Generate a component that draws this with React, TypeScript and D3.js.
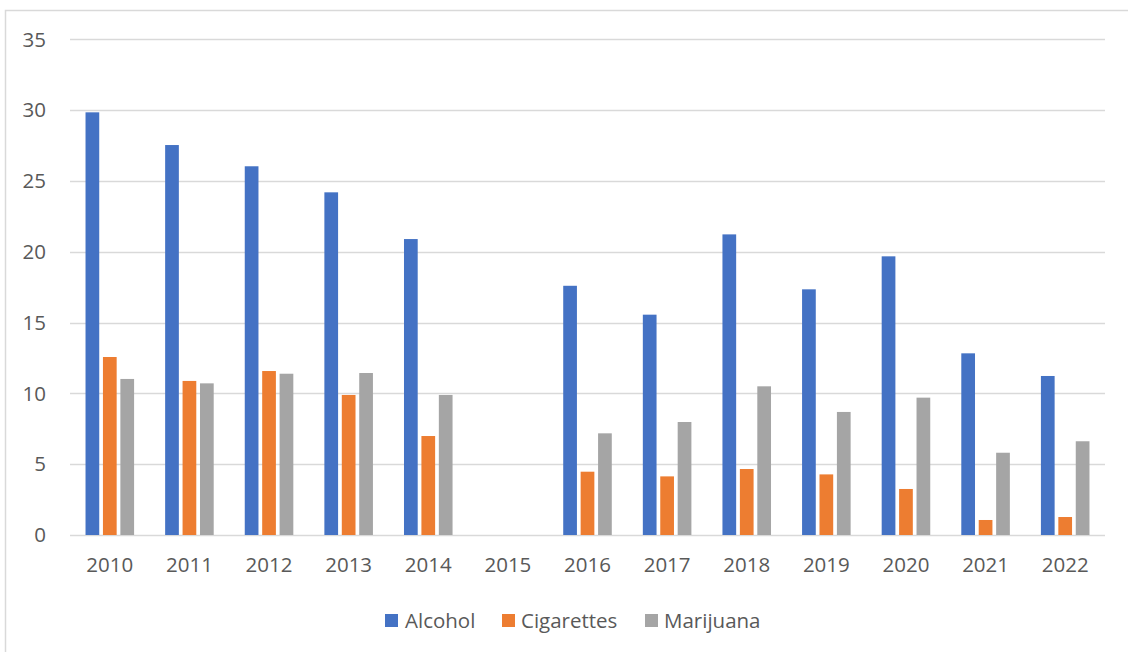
import React from "react";
import * as d3 from "d3";

const years = ["2010","2011","2012","2013","2014","2015","2016","2017","2018","2019","2020","2021","2022"];
const alcohol: (number|null)[] = [29.85,27.54,26.04,24.2,20.9,null,17.6,15.56,21.23,17.35,19.68,12.83,11.23];
const cigarettes: (number|null)[] = [12.57,10.88,11.58,9.89,6.99,null,4.47,4.14,4.66,4.28,3.25,1.06,1.27];
const marijuana: (number|null)[] = [11.02,10.71,11.39,11.44,9.89,null,7.18,7.98,10.5,8.69,9.7,5.81,6.62];
const seriesNames = ["Alcohol","Cigarettes","Marijuana"];
const seriesColors = ["#4472C4","#ED7D31","#A5A5A5"];
const yTicks = [0,5,10,15,20,25,30,35];

const W = 1128, H = 652;
const FONT = "'Open Sans', sans-serif";
const TEXT = "#595959";
const FS = 20.5;

export default function App() {
  const plotL = 70, plotR = 1105, plotT = 39.4, plotB = 535;
  const x = d3.scaleBand<string>().domain(years).range([plotL, plotR]).padding(0);
  const y = d3.scaleLinear().domain([0, 35]).range([plotB, plotT]);
  const bw = x.bandwidth();
  const groupW = bw * 0.61;
  const xs = d3.scaleBand<string>().domain(seriesNames)
    .range([(bw - groupW) / 2, (bw + groupW) / 2]).paddingInner(0.213).paddingOuter(0);
  const data = [alcohol, cigarettes, marijuana];

  const legendItems = [
    { name: "Alcohol", sq: 385, tx: 405 },
    { name: "Cigarettes", sq: 502, tx: 521 },
    { name: "Marijuana", sq: 645, tx: 664 },
  ];

  return (
    <svg width={W} height={H} style={{ position: "absolute", left: 0, top: 0, background: "#fff" }}
      fontFamily={FONT}>
      <rect x={0} y={0} width={W} height={H} fill="#fff" />
      <rect x={5.5} y={10.5} width={W + 20} height={H + 20} fill="none" stroke="#d9d9d9" strokeWidth={1.5} />
      {yTicks.map(t => (
        <g key={t}>
          <line x1={plotL} x2={plotR} y1={Math.round(y(t)) + 0.5} y2={Math.round(y(t)) + 0.5}
            stroke="#d9d9d9" strokeWidth={1.5} />
          <text x={46} y={y(t)} dy="0.35em" textAnchor="end" fontSize={FS} fill={TEXT}>{t}</text>
        </g>
      ))}
      {data.map((vals, si) => (
        <g key={si} fill={seriesColors[si]}>
          {vals.map((v, i) => v == null ? null : (
            <rect key={i}
              x={(x(years[i]) as number) + (xs(seriesNames[si]) as number)}
              y={y(v)} width={xs.bandwidth()} height={y(0) - y(v)} />
          ))}
        </g>
      ))}
      {years.map(yr => (
        <text key={yr} x={(x(yr) as number) + bw / 2} y={565} dy="0.35em" textAnchor="middle"
          fontSize={FS} fill={TEXT}>{yr}</text>
      ))}
      {legendItems.map((it, i) => (
        <g key={it.name}>
          <rect x={it.sq} y={614} width={13} height={13} fill={seriesColors[i]} />
          <text x={it.tx} y={620.5} dy="0.35em" fontSize={FS} fill={TEXT}>{it.name}</text>
        </g>
      ))}
    </svg>
  );
}
